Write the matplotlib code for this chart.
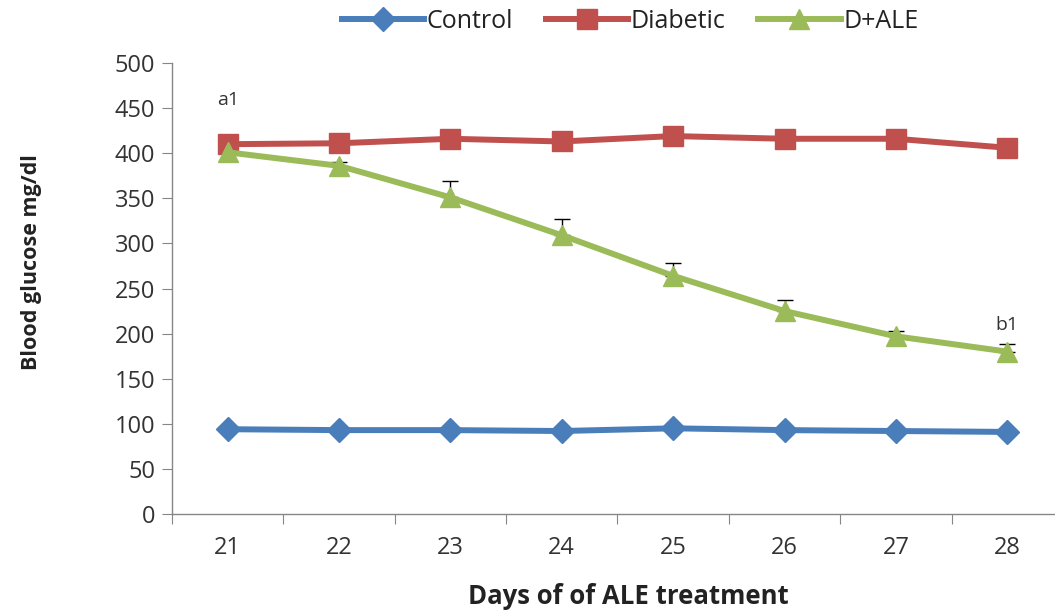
import matplotlib
matplotlib.use("Agg")
import matplotlib.pyplot as plt
import numpy as np

days = [21, 22, 23, 24, 25, 26, 27, 28]
control = [94, 93, 93, 92, 95, 93, 92, 91]
control_err = [2, 2, 2, 2, 2, 2, 2, 2]
diabetic = [410, 411, 416, 413, 419, 416, 416, 406]
diabetic_err = [6, 6, 10, 10, 6, 8, 10, 9]
dale = [401, 386, 351, 309, 264, 225, 197, 180]
dale_err = [4, 4, 18, 18, 14, 12, 6, 8]
yticks = [0, 50, 100, 150, 200, 250, 300, 350, 400, 450, 500]

plt.rcParams['font.family'] = ['Open Sans', 'DejaVu Sans']

fig = plt.figure(figsize=(10.55, 6.10), dpi=100)
ax = fig.add_axes([172/1055, 96/610, 891/1055, 451/610])

x = np.arange(len(days))
blue = '#4A7EBB'
red = '#C0504D'
green = '#9BBB59'

ax.errorbar(x, control, yerr=[np.zeros(len(days)), control_err], fmt='none',
            ecolor='black', elinewidth=1, capsize=5, zorder=2)
ax.errorbar(x, diabetic, yerr=[np.zeros(len(days)), diabetic_err], fmt='none',
            ecolor='black', elinewidth=1, capsize=5, zorder=2)
ax.errorbar(x, dale, yerr=[np.zeros(len(days)), dale_err], fmt='none',
            ecolor='black', elinewidth=1, capsize=6, zorder=2)

ax.plot(x, control, color=blue, lw=4.3, marker='D', ms=12, mfc=blue, mec=blue,
        label='Control', zorder=3)
ax.plot(x, diabetic, color=red, lw=4.3, marker='s', ms=15, mfc=red, mec=red,
        label='Diabetic', zorder=3)
ax.plot(x, dale, color=green, lw=4.3, marker='^', ms=15, mfc=green, mec=green,
        label='D+ALE', zorder=4)

ax.text(x[0], 459, 'a1', ha='center', va='center', fontsize=14, color='#333333')
ax.text(x[-1], 209, 'b1', ha='center', va='center', fontsize=14, color='#333333')

ax.set_xlim(-0.5, 7.5)
ax.set_ylim(0, 500)
ax.set_yticks(yticks)
ax.set_yticklabels([str(v) for v in yticks], fontsize=17, color='#333333')
ax.set_xticks(np.arange(-0.5, 8.0, 1.0))
ax.set_xticklabels([])
ax.set_xticks(x, minor=True)
ax.set_xticklabels([str(d) for d in days], minor=True, fontsize=17, color='#333333')
ax.tick_params(axis='x', which='major', direction='out', length=7, color='#868686')
ax.tick_params(axis='x', which='minor', length=0, pad=16)
ax.tick_params(axis='y', direction='out', length=7, color='#868686', pad=5)

for s in ['top', 'right']:
    ax.spines[s].set_visible(False)
for s in ['left', 'bottom']:
    ax.spines[s].set_color('#868686')
    ax.spines[s].set_linewidth(1)

fig.text(32/1055, 1 - 262/610, 'Blood glucose mg/dl', rotation=90, ha='center', va='center',
         fontsize=15.5, fontweight='bold', color='#222222')
fig.text(628/1055, 1 - 597/610, 'Days of of ALE treatment', ha='center', va='center',
         fontsize=18.5, fontweight='bold', color='#222222')

fig.legend(loc='center', bbox_to_anchor=(630/1055, 1 - 21/610), ncol=3, frameon=False,
           fontsize=18, handlelength=3.3, columnspacing=1.3, handletextpad=0.1,
           labelcolor='#222222')

fig.savefig('out.png', dpi=100)
